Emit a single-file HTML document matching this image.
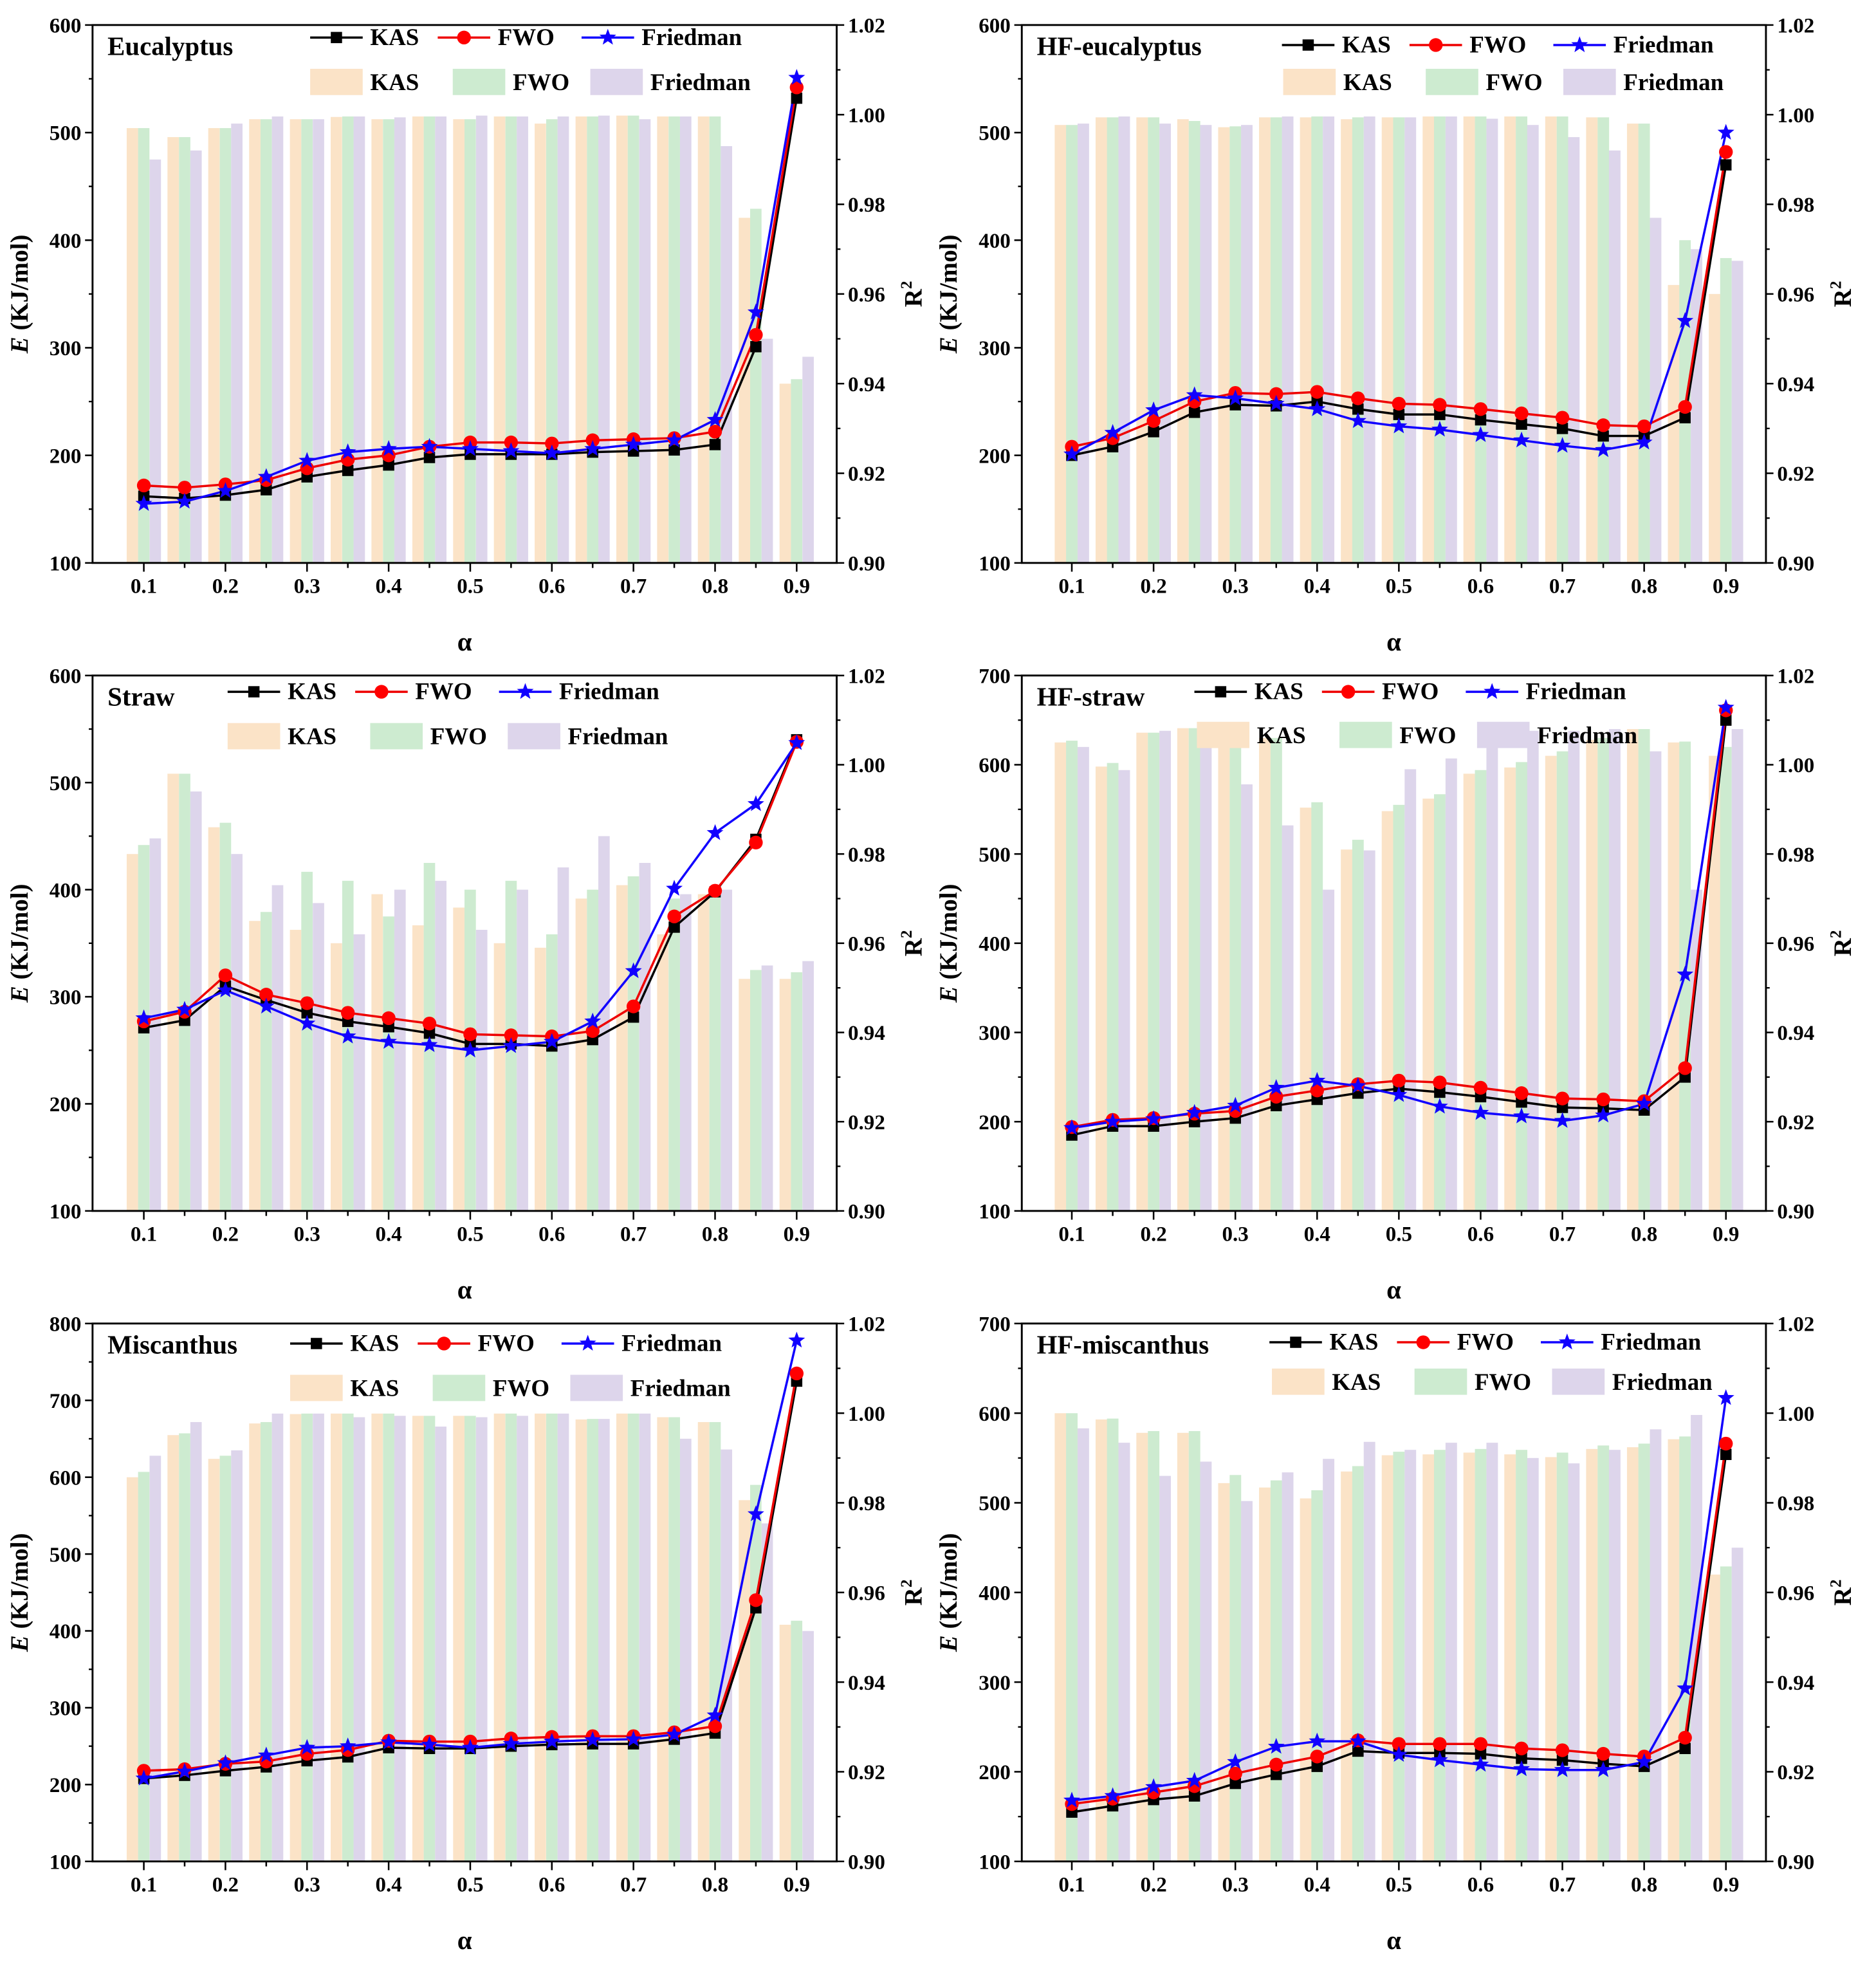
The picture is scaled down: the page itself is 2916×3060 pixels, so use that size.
<!DOCTYPE html>
<html><head><meta charset="utf-8"><style>
html,body{margin:0;padding:0;background:#fff}
svg{display:block}
text{font-family:"Liberation Serif",serif;font-weight:bold}
</style></head><body>
<svg id="fig" width="2916" height="3060" viewBox="0 0 1500 1574" preserveAspectRatio="none" xmlns="http://www.w3.org/2000/svg"></svg>
<script>
const alphas=[0.1,0.15,0.2,0.25,0.3,0.35,0.4,0.45,0.5,0.55,0.6,0.65,0.7,0.75,0.8,0.85,0.9];
const titles=["Eucalyptus","HF-eucalyptus","Straw","HF-straw","Miscanthus","HF-miscanthus"];
const eMax=[600,600,600,700,800,700];
const eTicksA=[100,200,300,400,500,600];
const eTicksB=[100,200,300,400,500,600,700];
const eTicksC=[100,200,300,400,500,600,700,800];
const r2Ticks=[0.90,0.92,0.94,0.96,0.98,1.00,1.02];
// line series (E, kJ/mol)
const kas1=[162,160,163,168,180,186,191,198,201,201,201,203,204,205,210,301,532];
const fwo1=[172,170,173,177,188,196,200,208,212,212,211,214,215,216,222,312,542];
const fri1=[155,157,167,180,195,203,206,208,206,204,202,206,210,214,233,333,551];
const kas2=[200,208,222,240,247,246,250,243,238,238,233,229,225,218,218,235,470];
const fwo2=[208,216,232,250,258,257,259,253,248,247,243,239,235,228,227,245,482];
const fri2=[201,221,242,256,253,248,243,232,227,224,219,214,209,205,212,325,500];
const kas3=[271,278,310,297,285,277,272,266,256,256,254,260,281,365,398,447,540];
const fwo3=[277,286,320,302,294,285,280,275,265,264,263,268,291,375,399,444,538];
const fri3=[280,288,306,291,275,263,258,255,250,254,258,277,324,401,453,480,537];
const kas4=[185,195,195,200,204,218,225,232,237,233,228,222,216,215,213,250,650];
const fwo4=[194,202,204,209,212,228,235,242,246,244,238,232,226,225,223,260,661];
const fri4=[193,200,203,210,218,238,246,240,230,217,210,206,201,207,220,365,664];
const kas5=[208,212,218,223,231,236,248,247,247,250,252,253,253,259,267,430,725];
const fwo5=[218,220,227,230,240,245,257,256,256,260,262,263,263,268,276,440,735];
const fri5=[208,217,228,238,248,250,255,252,248,253,256,258,259,265,290,552,778];
const kas6=[155,162,169,173,187,197,206,223,221,221,220,215,213,209,206,226,554];
const fwo6=[164,170,177,184,198,208,217,235,231,231,231,226,224,220,217,238,566];
const fri6=[168,173,183,190,211,228,234,234,219,213,208,203,202,202,211,293,617];
// bar series (R^2)
const r2kas1=[.997,.995,.997,.999,.999,.9995,.999,.9996,.999,.9996,.998,.9996,.9998,.9996,.9996,.977,.940];
const r2fwo1=[.997,.995,.997,.999,.999,.9996,.999,.9996,.999,.9996,.999,.9996,.9998,.9996,.9996,.979,.941];
const r2fri1=[.990,.992,.998,.9996,.999,.9996,.9994,.9996,.9998,.9996,.9996,.9998,.999,.9996,.993,.950,.946];
const r2kas2=[.9977,.9994,.9994,.999,.9972,.9994,.9994,.999,.9994,.9996,.9996,.9996,.9996,.9994,.998,.962,.960];
const r2fwo2=[.9977,.9994,.9994,.9986,.9974,.9994,.9996,.9994,.9994,.9996,.9996,.9996,.9996,.9994,.998,.972,.968];
const r2fri2=[.998,.9996,.998,.9977,.9977,.9996,.9996,.9996,.9994,.9996,.9991,.9977,.995,.992,.977,.970,.9674];
const r2kas3=[.980,.998,.986,.965,.963,.960,.971,.964,.968,.960,.959,.970,.973,.962,.971,.952,.952];
const r2fwo3=[.982,.998,.987,.967,.976,.974,.966,.978,.972,.974,.962,.972,.975,.970,.972,.954,.9535];
const r2fri3=[.9835,.994,.980,.973,.969,.962,.972,.974,.963,.972,.977,.984,.978,.971,.972,.955,.956];
const r2kas4=[1.005,.9996,1.0072,1.0082,1.008,1.006,.9904,.981,.9896,.9924,.998,.9994,1.002,1.0056,1.008,1.005,1.002];
const r2fwo4=[1.0054,1.0004,1.0072,1.0082,1.008,1.006,.9916,.9832,.991,.9934,.9988,1.0006,1.003,1.006,1.008,1.0052,1.004];
const r2fri4=[1.004,.9988,1.0076,1.0076,.9956,.9864,.972,.9808,.999,1.0014,1.006,1.0076,1.0076,1.008,1.003,.972,1.008];
const r2kas5=[.9857,.9951,.9898,.9977,.9998,.9999,.9999,.9994,.9994,.9999,.9999,.9986,.9999,.9991,.998,.9806,.9528];
const r2fwo5=[.9869,.9955,.9905,.998,.9999,.9999,.9999,.9994,.9994,.9999,.9999,.9987,.9999,.9991,.998,.984,.9537];
const r2fri5=[.9905,.998,.9917,.9999,.9999,.9991,.9994,.997,.9991,.9994,.9999,.9987,.9999,.9943,.9919,.9754,.9514];
const r2kas6=[1.0,.9986,.9956,.9956,.9844,.9834,.981,.987,.9906,.9908,.9912,.9908,.9902,.992,.9924,.9942,.964];
const r2fwo6=[1.0,.9988,.996,.996,.9862,.985,.9828,.9882,.9914,.9918,.992,.9918,.9912,.9928,.9932,.9948,.9658];
const r2fri6=[.9966,.9934,.986,.9892,.9804,.9868,.9898,.9936,.9918,.9934,.9934,.99,.9888,.9918,.9964,.9996,.970];

const lines=[[kas1,fwo1,fri1],[kas2,fwo2,fri2],[kas3,fwo3,fri3],[kas4,fwo4,fri4],[kas5,fwo5,fri5],[kas6,fwo6,fri6]];
const bars=[[r2kas1,r2fwo1,r2fri1],[r2kas2,r2fwo2,r2fri2],[r2kas3,r2fwo3,r2fri3],[r2kas4,r2fwo4,r2fri4],[r2kas5,r2fwo5,r2fri5],[r2kas6,r2fwo6,r2fri6]];
const eTickSets=[eTicksA,eTicksA,eTicksA,eTicksB,eTicksC,eTicksB];

const NS="http://www.w3.org/2000/svg";
const svg=document.getElementById('fig');
function mk(tag,attrs,parent,txt){const e=document.createElementNS(NS,tag);for(const k in attrs)e.setAttribute(k,attrs[k]);if(txt!==undefined)e.textContent=txt;(parent||svg).appendChild(e);return e;}
const lineCols=["#000","#e00","#10f"];
const barCols=["#fbe3c7","#cdebd0","#ddd5eb"];
const names=["kas","fwo","friedman"];
const labels=["KAS","FWO","Friedman"];
const panels=[
 {L:74,R:669,T:20,B:450,x01:115,x09:637,lg:[248,30,248,65]},
 {L:817,R:1412,T:20,B:450,x01:857,x09:1380,lg:[1025,36,1026,65]},
 {L:74,R:669,T:540,B:968,x01:115,x09:637,lg:[182,553,182,588]},
 {L:817,R:1412,T:540,B:968,x01:857,x09:1380,lg:[955,553,957,587]},
 {L:74,R:669,T:1058,B:1488,x01:115,x09:637,lg:[232,1074,232,1109]},
 {L:817,R:1412,T:1058,B:1488,x01:857,x09:1380,lg:[1015,1073,1017,1104]}
];
function star(cx,cy,r){let p=[];for(let i=0;i<10;i++){const a=-Math.PI/2+i*Math.PI/5;const rr=i%2?r*0.42:r;p.push((cx+rr*Math.cos(a)).toFixed(1)+','+(cy+rr*Math.sin(a)).toFixed(1));}return p.join(' ');}
function marker(g,k,x,y){
 if(k===0){const m=mk('rect',{x:x-4.5,y:y-4.5,width:9,height:9,fill:'#000'},g);}
 else if(k===1){const m=mk('circle',{cx:x,cy:y,r:5.5,fill:'#f00'},g);}
 else {const m=mk('polygon',{points:star(x,y,7),fill:'#10f'},g);}
}
panels.forEach((p,pi)=>{
 const g=mk('g',{});
 
 
 const ymax=eMax[pi];
 const xs=a=>p.x01+(a-0.1)/0.8*(p.x09-p.x01);
 const ye=v=>p.B-(v-100)/(ymax-100)*(p.B-p.T);
 const yr=v=>p.B-(v-0.9)/0.12*(p.B-p.T);
 const step=(p.x09-p.x01)/16, bw=step*0.28;
 // bars
 bars[pi].forEach((ser,k)=>{ser.forEach((v,i)=>{
   const x=xs(alphas[i])+(k-1)*bw-bw/2;const y=yr(v);
   const b=mk('rect',{x:x.toFixed(1),y:y.toFixed(1),width:bw.toFixed(1),height:Math.max(0,p.B-y).toFixed(1),fill:barCols[k]},g);
   
   
 });});
 // lines
 lines[pi].forEach((ser,k)=>{
   const pts=ser.map((v,i)=>xs(alphas[i]).toFixed(1)+','+ye(v).toFixed(1)).join(' ');
   const l=mk('polyline',{points:pts,fill:'none',stroke:lineCols[k],'stroke-width':1.8},g);
   
   
 });
 lines[pi].forEach((ser,k)=>{ser.forEach((v,i)=>marker(g,k,xs(alphas[i]),ye(v)));});
 // frame
 const fr=mk('rect',{x:p.L,y:p.T,width:p.R-p.L,height:p.B-p.T,fill:'none',stroke:'#000','stroke-width':1.5},g);
 
 // left ticks
 const et=eTickSets[pi];
 et.forEach((v,i)=>{
   const y=ye(v);
   mk('line',{x1:p.L-6,x2:p.L,y1:y,y2:y,stroke:'#000','stroke-width':1.3},g);
   if(i<et.length-1){const ym=ye(v+50);mk('line',{x1:p.L-3,x2:p.L,y1:ym,y2:ym,stroke:'#000','stroke-width':1.2},g);}
   const t=mk('text',{x:p.L-9,y:y+6,'text-anchor':'end','font-size':17},g,String(v));
   
 });
 r2Ticks.forEach((v,i)=>{
   const y=yr(v);
   mk('line',{x1:p.R,x2:p.R+6,y1:y,y2:y,stroke:'#000','stroke-width':1.3},g);
   if(i<r2Ticks.length-1){const ym=yr(v+0.01);mk('line',{x1:p.R,x2:p.R+3,y1:ym,y2:ym,stroke:'#000','stroke-width':1.2},g);}
   const t=mk('text',{x:p.R+9,y:y+6,'font-size':17},g,v.toFixed(2));
   
 });
 alphas.forEach((a,i)=>{
   const x=xs(a);
   mk('line',{x1:x,x2:x,y1:p.B,y2:p.B+(i%2?4:7),stroke:'#000','stroke-width':1.3},g);
   if(i%2===0){const t=mk('text',{x:x,y:p.B+24,'text-anchor':'middle','font-size':17},g,a.toFixed(1));
   }
 });
 const cy=(p.T+p.B)/2;
 const yt=mk('text',{x:0,y:0,'text-anchor':'middle','font-size':20,transform:`translate(${p.L-52},${cy}) rotate(-90)`},g);
 
 mk('tspan',{'font-style':'italic'},yt,'E');mk('tspan',{},yt,' (KJ/mol)');
 const rt=mk('text',{x:0,y:0,'text-anchor':'middle','font-size':20,transform:`translate(${p.R+68},${cy}) rotate(-90)`},g);
 
 mk('tspan',{},rt,'R');mk('tspan',{'font-size':13,dy:-8},rt,'2');
 const xt=mk('text',{x:(p.L+p.R)/2,y:p.B+70,'text-anchor':'middle','font-size':21,'font-weight':'normal'},g,'α');
 
 const tt=mk('text',{x:p.L+12,y:p.T+24,'font-size':21},g,titles[pi]);
 
 // legends
 const [lx,ly,bx,by]=p.lg;
 const loff=[0,102,217], boff=[0,114,224];
 for(let k=0;k<3;k++){
   const x=lx+loff[k];
   const lg=mk('g',{},g);
   
   mk('line',{x1:x,x2:x+42,y1:ly,y2:ly,stroke:lineCols[k],'stroke-width':1.8},lg);
   marker(lg,k,x+21,ly);
   mk('text',{x:x+48,y:ly+6,'font-size':19},lg,labels[k]);
   const xb=bx+boff[k];
   const bg=mk('g',{},g);
   
   mk('rect',{x:xb,y:by-10,width:42,height:21,fill:barCols[k]},bg);
   mk('text',{x:xb+48,y:by+7,'font-size':19},bg,labels[k]);
 }
});
</script>
</body></html>
